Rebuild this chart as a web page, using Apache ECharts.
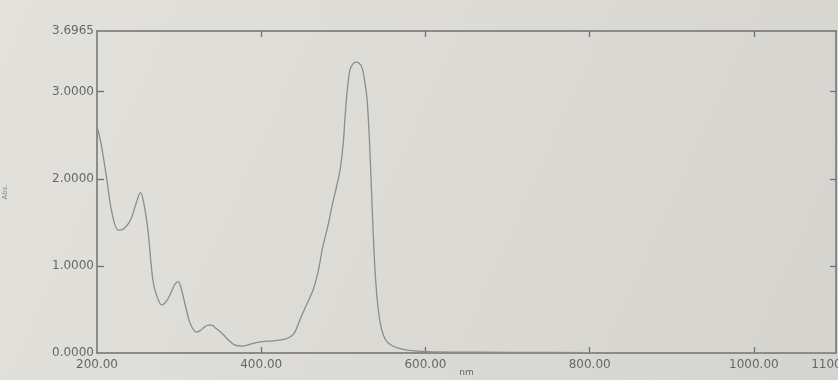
<!DOCTYPE html>
<html>
<head>
<meta charset="utf-8">
<script src="https://cdn.jsdelivr.net/npm/echarts@6/dist/echarts.min.js"></script>
<style>
  html, body { margin: 0; padding: 0; }
  #chart { width: 838px; height: 380px; }
</style>
</head>
<body>
<div id="chart"></div>
<script>
// wavelength (nm) and absorbance
var wavelengths = [200, 205, 212, 218, 226, 233, 241, 247, 253, 257, 262, 268, 273, 279, 285, 290, 295, 299, 302, 306,
  312, 316, 321, 326, 331, 336, 340, 345, 352, 360, 368, 377, 390, 401, 415, 429, 436, 441, 447, 455,
  463, 469, 475, 481, 487, 492, 496, 500, 502, 504, 506, 508, 511, 515, 519, 523, 526, 529, 532, 535,
  538, 541, 545, 549, 553, 560, 569, 580, 600, 650, 700, 800, 900, 1000, 1100];
var absorbance = [2.60, 2.40, 1.99, 1.62, 1.41, 1.43, 1.53, 1.70, 1.84, 1.72, 1.41, 0.84, 0.65, 0.55, 0.60, 0.69, 0.79, 0.82, 0.76, 0.61,
  0.38, 0.29, 0.24, 0.26, 0.30, 0.32, 0.32, 0.28, 0.23, 0.15, 0.09, 0.08, 0.11, 0.13, 0.14, 0.16, 0.19, 0.24, 0.38, 0.55,
  0.72, 0.92, 1.22, 1.45, 1.72, 1.92, 2.10, 2.42, 2.70, 2.94, 3.12, 3.25, 3.31, 3.34, 3.33, 3.27, 3.12, 2.90, 2.40, 1.70,
  1.05, 0.64, 0.34, 0.20, 0.13, 0.08, 0.05, 0.03, 0.015, 0.01, 0.008, 0.005, 0.005, 0.004, 0.004];
var xLabels = [200, 400, 600, 800, 1000, 1100];
var xTicks = [400, 600, 800, 1000];
var yLabels = [0, 1, 2, 3, 3.6965];
var yTicks = [1, 2, 3];

var chart = echarts.init(document.getElementById("chart"));
var points = [];
for (var i = 0; i < wavelengths.length; i++) {
  points.push([wavelengths[i], absorbance[i]]);
}

var axisColor = "#707070";
var textColor = "#676767";
var font = "DejaVu Sans";

var option = {
  backgroundColor: {
    type: "linear", x: 0, y: 0, x2: 1, y2: 1,
    colorStops: [
      { offset: 0, color: "#e2e1dc" },
      { offset: 1, color: "#d5d4cf" }
    ]
  },
  animation: false,
  grid: { left: 97, right: 2, top: 31, bottom: 27, containLabel: false, outerBoundsMode: "none" },
  xAxis: [
    {
      type: "value", min: 200, max: 1100, position: "bottom",
      name: "nm", nameLocation: "middle", nameGap: 15, nameMoveOverlap: false,
      nameTextStyle: { color: textColor, fontSize: 9, fontFamily: font },
      axisLine: { show: true, onZero: false, lineStyle: { color: axisColor, width: 1.5 } },
      axisTick: { inside: true, length: 6, customValues: xTicks, lineStyle: { color: axisColor, width: 1.3 } },
      axisLabel: {
        customValues: xLabels, margin: 6, color: textColor, fontSize: 12, fontFamily: font,
        formatter: function (v) { return v.toFixed(2); }
      },
      splitLine: { show: false }
    },
    {
      type: "value", min: 200, max: 1100, position: "top",
      axisLine: { show: true, onZero: false, lineStyle: { color: axisColor, width: 1.5 } },
      axisTick: { show: true, inside: true, length: 6, customValues: xTicks, lineStyle: { color: axisColor, width: 1.3 } },
      axisLabel: { show: false },
      splitLine: { show: false }
    }
  ],
  yAxis: [
    {
      type: "value", min: 0, max: 3.6965, position: "left",
      name: "Abs.", nameLocation: "middle", nameGap: 88, nameRotate: 90, nameMoveOverlap: false,
      nameTextStyle: { color: "#888", fontSize: 7, fontFamily: font },
      axisLine: { show: true, onZero: false, lineStyle: { color: axisColor, width: 1.5 } },
      axisTick: { show: true, inside: true, length: 7, customValues: yTicks, lineStyle: { color: axisColor, width: 1.3 } },
      axisLabel: {
        customValues: yLabels, margin: 3, color: textColor, fontSize: 12, fontFamily: font,
        formatter: function (v) { return v.toFixed(4); }
      },
      splitLine: { show: false }
    },
    {
      type: "value", min: 0, max: 3.6965, position: "right",
      axisLine: { show: true, onZero: false, lineStyle: { color: axisColor, width: 1.5 } },
      axisTick: { show: true, inside: true, length: 6, customValues: yTicks, lineStyle: { color: axisColor, width: 1.3 } },
      axisLabel: { show: false },
      splitLine: { show: false }
    }
  ],
  series: [
    {
      type: "line",
      data: points,
      smooth: 0.35,
      showSymbol: false,
      lineStyle: { color: "#8c8c8c", width: 1.3 }
    }
  ]
};
chart.setOption(option);
</script>
</body>
</html>
